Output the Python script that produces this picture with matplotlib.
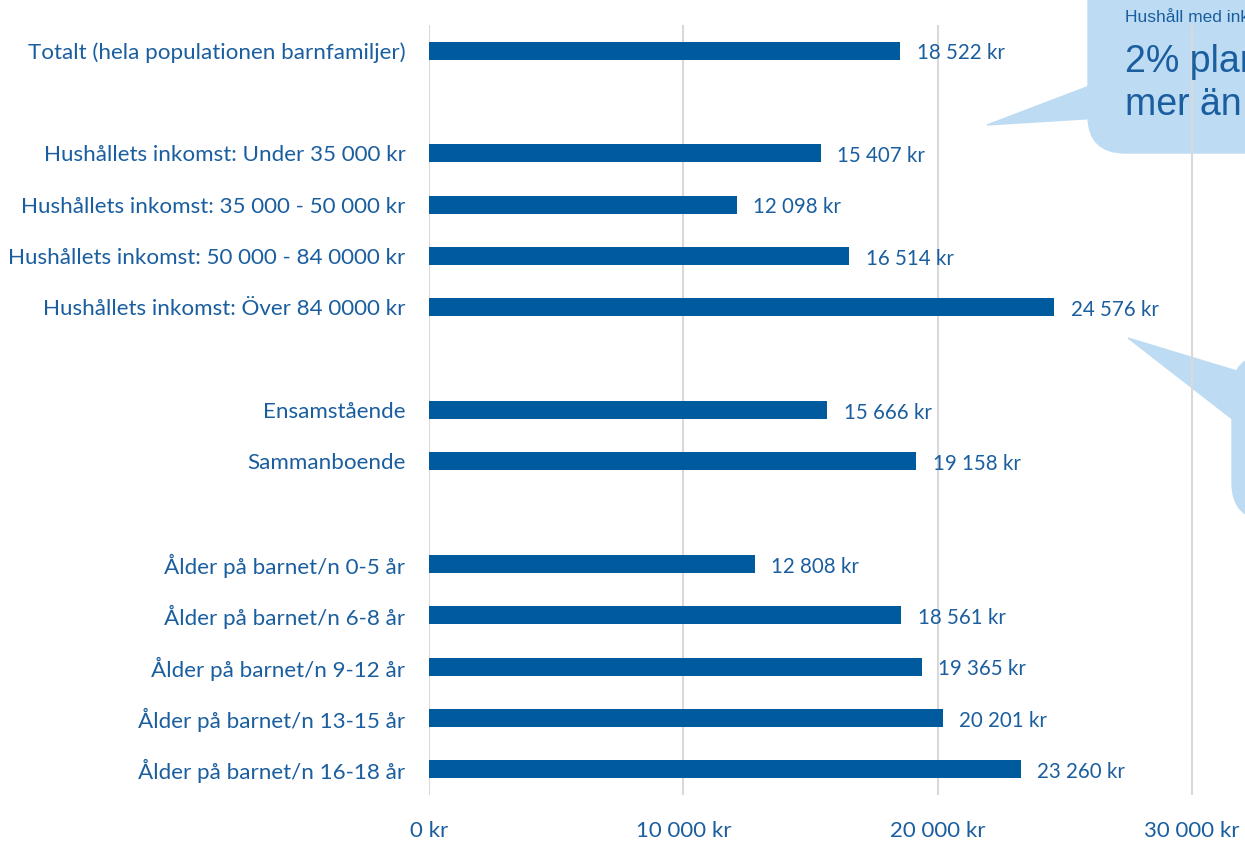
import matplotlib.pyplot as plt
from matplotlib.patches import FancyBboxPatch, Polygon

# data
labels = ['Totalt (hela populationen barnfamiljer)',
          'Hushållets inkomst: Under 35 000 kr',
          'Hushållets inkomst: 35 000 - 50 000 kr',
          'Hushållets inkomst: 50 000 - 84 0000 kr',
          'Hushållets inkomst: Över 84 0000 kr',
          'Ensamstående',
          'Sammanboende',
          'Ålder på barnet/n 0-5 år',
          'Ålder på barnet/n 6-8 år',
          'Ålder på barnet/n 9-12 år',
          'Ålder på barnet/n 13-15 år',
          'Ålder på barnet/n 16-18 år']
values = [18522, 15407, 12098, 16514, 24576, 15666, 19158,
          12808, 18561, 19365, 20201, 23260]
slots = [0, 2, 3, 4, 5, 7, 8, 10, 11, 12, 13, 14]
xticks = [0, 10000, 20000, 30000]

BAR = '#005a9e'
TXT = '#1a5e9f'
BUBBLE = '#bddcf3'


def fmt(v):
    return '{:,}'.format(v).replace(',', ' ') + ' kr'


def main():
    plt.rcParams['font.family'] = ['Lato', 'DejaVu Sans']
    W, H = 1245, 842
    fig = plt.figure(figsize=(12.45, 8.42), dpi=100)
    ax = fig.add_axes([429 / W, 1 - 795 / H, 1 - 429 / W, (795 - 25) / H])
    ax.set_facecolor('none')

    ax.barh(slots, values, height=0.35, color=BAR, zorder=3)
    for s, v in zip(slots, values):
        ax.text(v + 650, s + 0.05, fmt(v), va='center', ha='left',
                color=TXT, fontsize=14.8, zorder=4)

    ax.set_xlim(0, 30000 * (W - 429) / (1192 - 429))
    ax.set_ylim(14.5, -0.5)
    ax.set_yticks(slots)
    ax.set_yticklabels(labels)
    ax.set_xticks(xticks)
    ax.set_xticklabels([fmt(t) for t in xticks])
    ax.tick_params(axis='both', length=0, colors=TXT)
    ax.tick_params(axis='y', pad=17, labelsize=16.1)
    ax.tick_params(axis='x', pad=19, labelsize=16)
    ax.grid(axis='x', color='#d9d9d9', linewidth=1.5, zorder=1)
    for sp in ax.spines.values():
        sp.set_visible(False)

    # callout bubbles (partly outside the picture)
    def px(x, y):
        return (x / W, 1 - y / H)

    b1 = FancyBboxPatch(px(1088, 153), 400 / W, 200 / H,
                        boxstyle='round,pad=0,rounding_size=0.03',
                        transform=fig.transFigure, color=BUBBLE, zorder=-1,
                        mutation_aspect=W / H)
    t1 = Polygon([px(1100, 82), px(987, 125), px(1100, 118)], closed=True,
                 transform=fig.transFigure, color=BUBBLE, zorder=-1)
    b2 = FancyBboxPatch(px(1232, 520), 300 / W, 165 / H,
                        boxstyle='round,pad=0,rounding_size=0.03',
                        transform=fig.transFigure, color=BUBBLE, zorder=-1,
                        mutation_aspect=W / H)
    t2 = Polygon([px(1240, 372), px(1128, 338), px(1240, 425)], closed=True,
                 transform=fig.transFigure, color=BUBBLE, zorder=-1)
    for p in (b1, t1, b2, t2):
        fig.patches.append(p)

    fig.text(1125 / W, 1 - 18 / H, 'Hushåll med inkomst över 84 000 kr',
             family='Liberation Sans', fontsize=12.5, color=TXT, va='center')
    fig.text(1125 / W, 1 - 62 / H, '2% planerar att spendera',
             family='Liberation Sans', fontsize=27, color=TXT, va='center')
    fig.text(1125 / W, 1 - 105 / H, 'mer än 50 000 kr',
             family='Liberation Sans', fontsize=27, color=TXT, va='center')

    fig.savefig('out.png', dpi=100)


if __name__ == '__main__':
    main()
